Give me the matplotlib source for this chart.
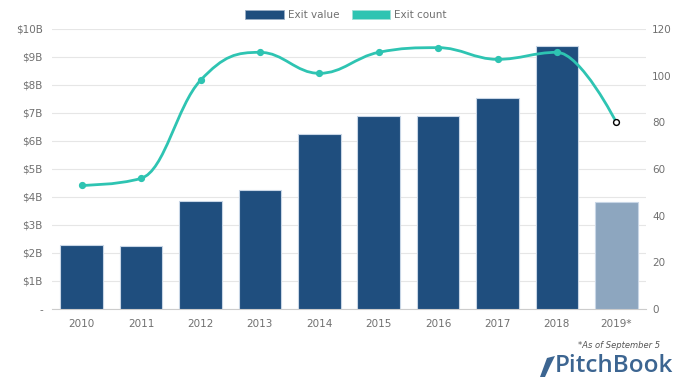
import matplotlib
matplotlib.use("Agg")
import matplotlib.pyplot as plt
import numpy as np
from matplotlib.path import Path
from matplotlib.patches import PathPatch, Patch, Polygon

years = ["2010", "2011", "2012", "2013", "2014", "2015", "2016", "2017", "2018", "2019*"]
exit_value = [2.30, 2.25, 3.85, 4.26, 6.24, 6.89, 6.91, 7.55, 9.40, 3.81]
exit_count = [53, 56, 98, 110, 101, 110, 112, 107, 110, 80]
left_ticks = [0, 1, 2, 3, 4, 5, 6, 7, 8, 9, 10]
left_labels = ["-", "$1B", "$2B", "$3B", "$4B", "$5B", "$6B", "$7B", "$8B", "$9B", "$10B"]
right_ticks = [0, 20, 40, 60, 80, 100, 120]

NAVY = "#1f4e7e"
LIGHT = "#8da6bf"
TEAL = "#2ec4b2"
GRID = "#e6e6e6"
TXT = "#707070"

W, H = 692, 392
fig = plt.figure(figsize=(W / 100, H / 100), dpi=100)
ax = fig.add_axes([52 / W, 1 - 309 / H, (646 - 52) / W, (309 - 29) / H])
ax2 = ax.twinx()

x = np.arange(len(years))
colors = [NAVY] * (len(years) - 1) + [LIGHT]
ax.bar(x, exit_value, width=0.72, color=colors, edgecolor="#c8d6e6", linewidth=0.8, zorder=3)
ax.set_xlim(-0.5, len(years) - 0.5)
ax.set_ylim(0, 10)
ax.set_yticks(left_ticks)
ax.set_yticklabels(left_labels)
ax.set_xticks(x)
ax.set_xticklabels(years)
ax.grid(axis="y", color=GRID, linewidth=0.8, zorder=0)
ax.set_axisbelow(True)
for s in ["top", "right", "left"]:
    ax.spines[s].set_visible(False)
ax.spines["bottom"].set_color("#cccccc")
ax.tick_params(axis="y", length=0, colors=TXT, labelsize=7.5, pad=6.5)
ax.tick_params(axis="x", length=0, colors=TXT, labelsize=7.5, pad=7)

ax2.set_ylim(0, 120)
ax2.set_yticks(right_ticks)
for s in ["top", "right", "left", "bottom"]:
    ax2.spines[s].set_visible(False)
ax2.tick_params(axis="y", length=0, colors=TXT, labelsize=7.5, pad=4.5)


# Highcharts-style spline path
def spline_path(xs, ys, smoothing=1.5):
    denom = smoothing + 1
    n = len(xs)
    verts = [(xs[0], ys[0])]
    codes = [Path.MOVETO]
    right = [(None, None)] * n
    left = [(None, None)] * n
    for i in range(1, n - 1):
        px, py = xs[i], ys[i]
        lx, ly = xs[i - 1], ys[i - 1]
        nx, ny = xs[i + 1], ys[i + 1]
        lcx = (smoothing * px + lx) / denom
        lcy = (smoothing * py + ly) / denom
        rcx = (smoothing * px + nx) / denom
        rcy = (smoothing * py + ny) / denom
        if rcx != lcx:
            corr = ((rcy - lcy) * (rcx - px)) / (rcx - lcx) + py - rcy
            lcy += corr
            rcy += corr
        if lcy > ly and lcy > py:
            lcy = max(ly, py)
            rcy = 2 * py - lcy
        elif lcy < ly and lcy < py:
            lcy = min(ly, py)
            rcy = 2 * py - lcy
        if rcy > ny and rcy > py:
            rcy = max(ny, py)
            lcy = 2 * py - rcy
        elif rcy < ny and rcy < py:
            rcy = min(ny, py)
            lcy = 2 * py - rcy
        left[i] = (lcx, lcy)
        right[i] = (rcx, rcy)
    for i in range(1, n):
        r = right[i - 1] if right[i - 1][0] is not None else (xs[i - 1], ys[i - 1])
        l = left[i] if left[i][0] is not None else (xs[i], ys[i])
        verts += [r, l, (xs[i], ys[i])]
        codes += [Path.CURVE4] * 3
    return Path(verts, codes)


path = spline_path(list(x.astype(float)), [float(v) for v in exit_count])
ax2.add_patch(PathPatch(path, facecolor="none", edgecolor=TEAL, linewidth=2.0, zorder=4))
ax2.plot(x[:-1], exit_count[:-1], "o", color=TEAL, markersize=4.2, zorder=5)
ax2.plot(x[-1:], exit_count[-1:], "o", markerfacecolor="white", markeredgecolor="black",
         markeredgewidth=1.0, markersize=4.2, zorder=5)

handles = [Patch(facecolor=NAVY, edgecolor="#9aaec4", linewidth=0.6, label="Exit value"),
           Patch(facecolor=TEAL, edgecolor="#9fe0d7", linewidth=0.6, label="Exit count")]
fig.legend(handles=handles, loc="center", bbox_to_anchor=(346 / W, 1 - 15 / H), ncol=2,
           frameon=False, fontsize=7.5, labelcolor=TXT, handlelength=3.7, handleheight=1.0,
           columnspacing=1.2, handletextpad=0.4, borderaxespad=0)

fig.text(660 / W, 1 - 345 / H, "*As of September 5", ha="right", va="center",
         fontsize=6, style="italic", color="#555555")
fig.text(555 / W, 1 - 366 / H, "PitchBook", ha="left", va="center",
         fontsize=17.5, color="#3c6591", fontweight="semibold", family="Open Sans")
# simple leaf icon
leaf = Polygon([(540 / W, 1 - 377 / H), (547 / W, 1 - 358 / H), (555 / W, 1 - 356 / H),
                (550 / W, 1 - 366 / H), (545 / W, 1 - 377 / H)],
               closed=True, transform=fig.transFigure, facecolor="#3c6591", edgecolor="none")
fig.patches.append(leaf)

fig.savefig("out.png", dpi=100, facecolor="white")
